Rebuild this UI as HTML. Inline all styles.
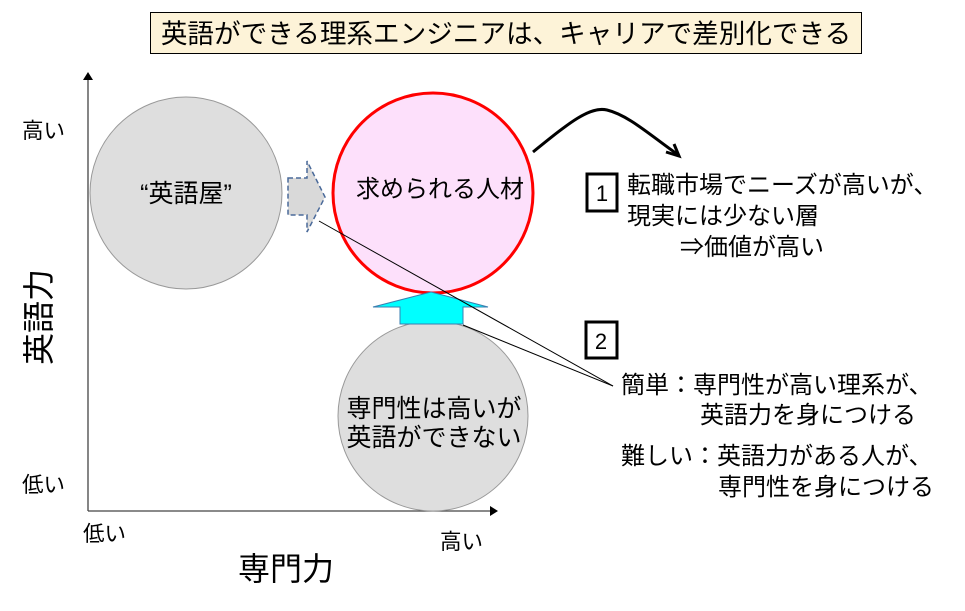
<!DOCTYPE html>
<html><head><meta charset="utf-8"><style>
html,body{margin:0;padding:0;background:#fff;width:965px;height:611px;overflow:hidden}
svg text{font-family:"Liberation Sans","Noto Sans CJK JP",sans-serif;fill:#000}
</style></head><body>
<svg width="965" height="611" viewBox="0 0 965 611" xmlns="http://www.w3.org/2000/svg">
<!-- title -->
<rect x="150.5" y="12.5" width="711" height="41" fill="#fdf3d8" stroke="#000" stroke-width="1"/>
<text x="506" y="43" font-size="26.6" text-anchor="middle">英語ができる理系エンジニアは、キャリアで差別化できる</text>
<!-- axes -->
<line x1="88" y1="511" x2="88" y2="80" stroke="#444" stroke-width="1.3"/>
<path d="M83,80 L88,72 L93,80 z" fill="#000"/>
<line x1="88" y1="511" x2="490" y2="511" stroke="#444" stroke-width="1.3"/>
<path d="M490,506 L498,511 L490,516 z" fill="#000"/>
<text x="22" y="138" font-size="21.5">高い</text>
<text x="22" y="492" font-size="21.5">低い</text>
<text x="83" y="541" font-size="21.5">低い</text>
<text x="440" y="549" font-size="21.5">高い</text>
<text x="238" y="580" font-size="32">専門力</text>
<text font-size="32" transform="translate(50,365) rotate(-90)">英語力</text>
<!-- circles -->
<circle cx="186" cy="193" r="96" fill="#dedede" stroke="#999" stroke-width="1"/>
<text x="186" y="202" font-size="25" text-anchor="middle">“英語屋”</text>
<circle cx="433" cy="416" r="95" fill="#dedede" stroke="#999" stroke-width="1"/>
<text x="434" y="417" font-size="25" text-anchor="middle">専門性は高いが</text>
<text x="434" y="446" font-size="25" text-anchor="middle">英語ができない</text>
<circle cx="433" cy="193" r="100" fill="#fde0fb" stroke="#f00" stroke-width="3"/>
<text x="440" y="197" font-size="24" text-anchor="middle">求められる人材</text>
<!-- dashed arrow -->
<path d="M288,178 L307,178 L307,161 L325,197 L307,232 L307,215 L288,215 z" fill="#d9d9d9" stroke="#4a6a9a" stroke-width="1.5" stroke-dasharray="5,3"/>
<!-- up arrow -->
<path d="M431,292 L488,307 L463,307 L463,324 L400,324 L400,307 L373,307 z" fill="#00ffff" stroke="#3a7fb0" stroke-width="1"/>
<!-- lines -->
<line x1="319" y1="221" x2="613" y2="386" stroke="#000" stroke-width="1"/>
<line x1="463" y1="325" x2="613" y2="386" stroke="#000" stroke-width="1"/>
<!-- curved arrow -->
<path d="M533,152 C570,122 590,106 607,110 C628,115 650,135 677,154" fill="none" stroke="#000" stroke-width="3"/>
<path d="M666,152 L679,156 L674,144" fill="none" stroke="#000" stroke-width="3"/>
<!-- boxes -->
<rect x="587" y="174" width="30" height="37" fill="#fff" stroke="#000" stroke-width="3"/>
<text x="602" y="201" font-size="22" text-anchor="middle">1</text>
<rect x="586" y="322" width="31" height="36" fill="#fff" stroke="#000" stroke-width="3"/>
<text x="601" y="349" font-size="22" text-anchor="middle">2</text>
<text x="627" y="193" font-size="24">転職市場でニーズが高いが、</text>
<text x="627" y="224" font-size="24">現実には少ない層</text>
<text x="680" y="255" font-size="24">⇒価値が高い</text>
<text x="621" y="393" font-size="24">簡単：専門性が高い理系が、</text>
<text x="700" y="423" font-size="24">英語力を身につける</text>
<text x="621" y="464" font-size="24">難しい：英語力がある人が、</text>
<text x="718" y="495" font-size="24">専門性を身につける</text>
</svg>
</body></html>
